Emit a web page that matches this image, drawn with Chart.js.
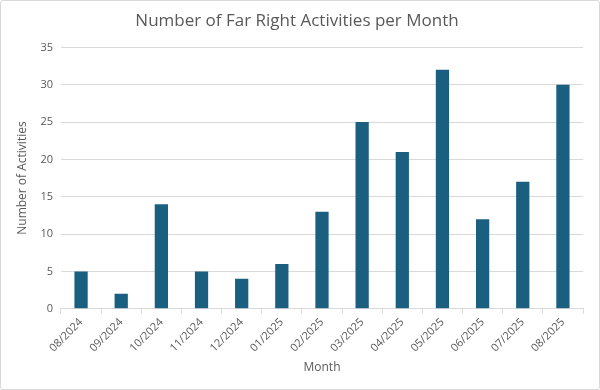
<!DOCTYPE html>
<html>
<head>
<meta charset="utf-8">
<script src="https://cdn.jsdelivr.net/npm/chart.js@4"></script>
<style>
  html, body { margin: 0; padding: 0; background: #fff; }
  #wrap { position: absolute; left: 0; top: 0; width: 598px; height: 388px; border: 1px solid #d9d9d9; border-radius: 3px; }
</style>
</head>
<body>
<div id="wrap"><canvas id="monthChart"></canvas></div>
<script>
const months = ["08/2024", "09/2024", "10/2024", "11/2024", "12/2024", "01/2025", "02/2025",
  "03/2025", "04/2025", "05/2025", "06/2025", "07/2025", "08/2025"];
const activities = [5, 2, 14, 5, 4, 6, 13, 25, 21, 32, 12, 17, 30];
const yMax = 35;
const yStep = 5;

const grey = "#595959";
const font = "'Open Sans', 'Liberation Sans', sans-serif";

const ctx = document.getElementById("monthChart").getContext("2d");
new Chart(ctx, {
  type: "bar",
  data: {
    labels: months,
    datasets: [{
      label: "Number of Activities",
      data: activities,
      backgroundColor: "#1a5e80",
      barPercentage: 0.33,
      categoryPercentage: 1,
    }],
  },
  options: {
    responsive: true,
    maintainAspectRatio: false,
    animation: false,
    layout: { padding: { left: 10, right: 16, top: 8, bottom: 10 } },
    scales: {
      y: {
        min: 0, max: yMax,
        ticks: { stepSize: yStep, color: grey, font: { family: font, size: 11 }, padding: 8 },
        grid: { color: "#d9d9d9", drawTicks: false },
        border: { display: false },
        title: { display: true, text: "Number of Activities", color: grey, font: { family: font, size: 12 }, padding: { bottom: 3 } },
      },
      x: {
        ticks: { color: grey, font: { family: font, size: 11 }, minRotation: 45, maxRotation: 45, padding: 2 },
        grid: { drawOnChartArea: false, drawTicks: true, tickLength: 5, color: "#d9d9d9" },
        border: { color: "#d9d9d9" },
        title: { display: true, text: "Month", color: grey, font: { family: font, size: 12 }, padding: { top: 4 } },
      },
    },
    plugins: {
      legend: { display: false },
      tooltip: { enabled: false },
      title: {
        display: true,
        text: "Number of Far Right Activities per Month",
        color: grey,
        font: { family: font, size: 17, weight: "normal" },
        padding: { top: 2, bottom: 16 },
      },
    },
  },
});
</script>
</body>
</html>
